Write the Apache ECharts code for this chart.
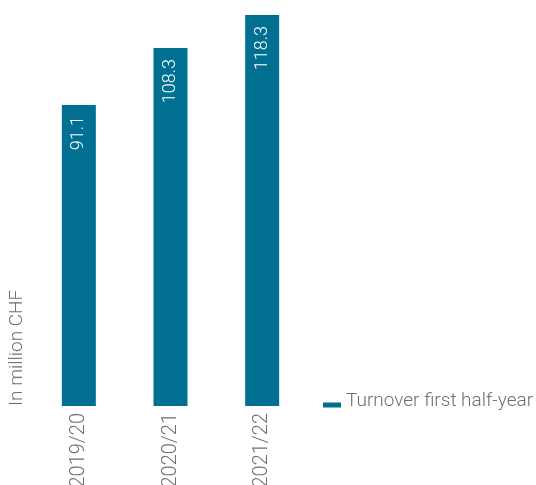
<!DOCTYPE html>
<html>
<head>
<meta charset="utf-8">
<script src="https://cdn.jsdelivr.net/npm/echarts@6/dist/echarts.min.js"></script>
<style>
  html, body { margin: 0; padding: 0; background: #fff; }
  #chart { width: 536px; height: 485px; }
</style>
</head>
<body>
<div id="chart"></div>
<script>
// data
var years = ['2019/20', '2020/21', '2021/22'];
var turnover = [91.1, 108.3, 118.3];
var seriesName = 'Turnover first half-year';
var unitLabel = 'In million CHF';

var barColor = '#006f91';
var textColor = '#6f6f6f';
var fontFamily = 'Roboto, "Liberation Sans", sans-serif';

var chart = echarts.init(document.getElementById('chart'));

chart.setOption({
  animation: false,
  textStyle: { fontFamily: fontFamily },
  grid: {
    left: 33,
    right: 228,
    top: 15,
    bottom: 79,
    outerBoundsMode: 'none'
  },
  legend: {
    data: [seriesName],
    left: 323,
    top: 392,
    padding: 0,
    itemWidth: 18,
    itemHeight: 12,
    itemGap: 5,
    icon: 'path://M0,0 M0,7 L18,7 L18,12 L0,12 Z',
    textStyle: {
      color: textColor,
      fontSize: 19,
      fontWeight: 300
    }
  },
  xAxis: {
    type: 'category',
    data: years,
    axisLine: { show: false },
    axisTick: { show: false },
    axisLabel: {
      rotate: 90,
      margin: 7,
      color: textColor,
      fontSize: 20,
      fontWeight: 300
    }
  },
  yAxis: {
    type: 'value',
    min: 0,
    max: 118.3,
    offset: 16,
    axisLine: { show: false },
    axisTick: { show: false },
    axisLabel: { show: false },
    splitLine: { show: false },
    name: unitLabel,
    nameLocation: 'start',
    nameGap: 0,
    nameRotate: 90,
    nameTextStyle: {
      color: textColor,
      fontSize: 19,
      fontWeight: 300,
      align: 'left',
      verticalAlign: 'middle'
    }
  },
  series: [
    {
      name: seriesName,
      type: 'bar',
      data: turnover,
      barWidth: 34,
      itemStyle: { color: barColor },
      label: {
        show: true,
        position: 'insideTop',
        distance: 11,
        rotate: 90,
        align: 'right',
        verticalAlign: 'middle',
        color: '#fff',
        fontSize: 18,
        fontWeight: 300
      }
    }
  ]
});
</script>
</body>
</html>
